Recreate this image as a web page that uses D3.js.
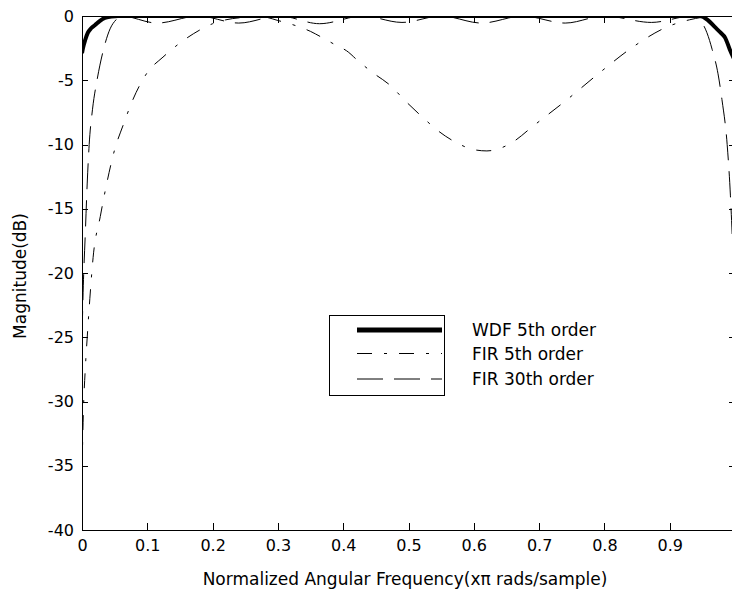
<!DOCTYPE html>
<html>
<head>
<meta charset="utf-8">
<script src="https://cdn.jsdelivr.net/npm/d3@7"></script>
<style>
  html, body { margin: 0; padding: 0; background: #fff; }
  svg { display: block; }
  text { font-family: "DejaVu Sans", sans-serif; font-size: 16px; fill: #000; }
  .title, .legend-label { font-size: 17px; }
</style>
</head>
<body>
<svg id="chart" width="732" height="592"></svg>
<script>
// Magnitude responses (dB) against normalized angular frequency (x pi rad/sample)
const wdfFreq = [0, 0.0015, 0.005, 0.009, 0.014, 0.02, 0.027, 0.035, 0.045, 0.055, 0.07, 0.5, 0.93, 0.946, 0.958, 0.969, 0.978, 0.985, 0.992, 1.0];
const wdfMag  = [-2.9, -2.5, -1.85, -1.3, -0.95, -0.7, -0.4, -0.15, -0.05, 0, 0, 0, 0, 0, -0.3, -0.85, -1.3, -1.7, -2.6, -3.5];

const fir5Freq = [0, 0.002, 0.005, 0.008, 0.012, 0.017, 0.028, 0.038, 0.05, 0.063, 0.078, 0.1, 0.124, 0.15, 0.18, 0.2, 0.22, 0.25, 0.275, 0.3, 0.33, 0.35, 0.365, 0.39, 0.405, 0.423, 0.445, 0.472, 0.495, 0.522, 0.547, 0.575, 0.6, 0.62, 0.64, 0.66, 0.69, 0.743, 0.793, 0.844, 0.896, 0.93, 0.96, 1.0];
const fir5Mag  = [-35.5, -31, -27.5, -25, -22, -18.8, -15.6, -13, -10.4, -8.5, -6.5, -4.4, -3.2, -2.1, -1.1, -0.6, -0.3, -0.1, -0.05, -0.35, -0.8, -1.2, -1.6, -2.3, -2.7, -3.5, -4.4, -5.4, -6.6, -7.9, -9.0, -9.9, -10.4, -10.5, -10.3, -9.8, -8.6, -6.5, -4.4, -2.4, -0.85, -0.3, -0.05, 0];

const fir30Freq = [0, 0.002, 0.005, 0.008, 0.011, 0.016, 0.023, 0.032, 0.043, 0.052, 0.06, 0.115, 0.178, 0.24, 0.302, 0.364, 0.43, 0.49, 0.55, 0.612, 0.675, 0.74, 0.8, 0.872, 0.935, 0.946, 0.957, 0.965, 0.974, 0.98, 0.988, 0.993, 0.997, 1.0];
const fir30Mag  = [-25, -21, -17, -13, -10, -7.3, -5, -2.8, -1.0, -0.3, 0, -0.55, 0, -0.55, 0, -0.6, 0, -0.5, 0, -0.55, 0, -0.55, 0, -0.5, 0, -0.3, -1.3, -2.6, -4.5, -6.5, -10, -14, -19, -25];

const seriesNames = ["WDF 5th order", "FIR 5th order", "FIR 30th order"];
const xTicks = [0, 0.1, 0.2, 0.3, 0.4, 0.5, 0.6, 0.7, 0.8, 0.9];
const yTicks = [-40, -35, -30, -25, -20, -15, -10, -5, 0];

const svg = d3.select("#chart");
const x = d3.scaleLinear().domain([0, 1]).range([82, 735]);
const y = d3.scaleLinear().domain([-40, 0]).range([530, 16]);

// clip region = axes box
svg.append("clipPath").attr("id", "plotClip")
  .append("rect")
  .attr("x", x(0) + 0.5).attr("y", y(0) + 0.5)
  .attr("width", x(1) - x(0)).attr("height", y(-40) - y(0));

const series = [
  { name: seriesNames[0], f: wdfFreq,  m: wdfMag,  width: 4, dash: null },
  { name: seriesNames[1], f: fir5Freq, m: fir5Mag, width: 1, dash: "15,12,3,12" },
  { name: seriesNames[2], f: fir30Freq, m: fir30Mag, width: 1, dash: "26,11" }
];

const line = d3.line()
  .x(d => x(d[0]))
  .y(d => y(d[1]))
  .curve(d3.curveMonotoneX);

const plot = svg.append("g").attr("clip-path", "url(#plotClip)");
series.forEach(s => {
  plot.append("path")
    .datum(s.f.map((f, i) => [f, s.m[i]]))
    .attr("d", line)
    .attr("fill", "none")
    .attr("stroke", "#000")
    .attr("stroke-width", s.width)
    .attr("stroke-dasharray", s.dash);
});

// axes with inward ticks on all four sides
function styleAxis(g) {
  g.attr("font-family", null).attr("font-size", null);
  g.selectAll("path, line").attr("stroke", "#000").attr("shape-rendering", "crispEdges");
  g.selectAll("text").attr("fill", "#000");
}

svg.append("g").attr("transform", `translate(0,${y(-40)})`)
  .call(d3.axisBottom(x).tickValues(xTicks).tickSizeInner(-7).tickSizeOuter(0).tickPadding(10)
    .tickFormat(d => d === 0 ? "0" : d.toFixed(1)))
  .call(styleAxis);

svg.append("g").attr("transform", `translate(0,${y(0)})`)
  .call(d3.axisTop(x).tickValues(xTicks).tickSizeInner(-7).tickSizeOuter(0).tickFormat(""))
  .call(styleAxis);

svg.append("g").attr("transform", `translate(${x(0)},0)`)
  .call(d3.axisLeft(y).tickValues(yTicks).tickSizeInner(-6).tickSizeOuter(0).tickPadding(8)
    .tickFormat(d => String(d)))
  .call(styleAxis);

svg.append("g").attr("transform", `translate(${x(1)},0)`)
  .call(d3.axisRight(y).tickValues(yTicks).tickSizeInner(-6).tickSizeOuter(0).tickFormat(""))
  .call(styleAxis);

// axis titles
svg.append("text")
  .attr("class", "title")
  .attr("x", 405).attr("y", 585)
  .attr("text-anchor", "middle")
  .text("Normalized Angular Frequency(x\u03c0 rads/sample)");

svg.append("text")
  .attr("class", "title")
  .attr("transform", `translate(26,${(y(0) + y(-40)) / 2 + 3}) rotate(-90)`)
  .attr("text-anchor", "middle")
  .text("Magnitude(dB)");

// legend
const legend = svg.append("g");
legend.append("rect")
  .attr("x", 329.5).attr("y", 315.5).attr("width", 115).attr("height", 80)
  .attr("fill", "#fff").attr("stroke", "#000").attr("shape-rendering", "crispEdges");
const legendY = [330, 353.5, 379];
series.forEach((s, i) => {
  legend.append("line")
    .attr("x1", 357).attr("x2", 442)
    .attr("y1", legendY[i]).attr("y2", legendY[i])
    .attr("stroke", "#000")
    .attr("stroke-width", s.width === 4 ? 5 : 1)
    .attr("stroke-dasharray", s.dash);
  legend.append("text")
    .attr("class", "legend-label")
    .attr("x", 472).attr("y", legendY[i] + 6)
    .text(s.name);
});
</script>
</body>
</html>
